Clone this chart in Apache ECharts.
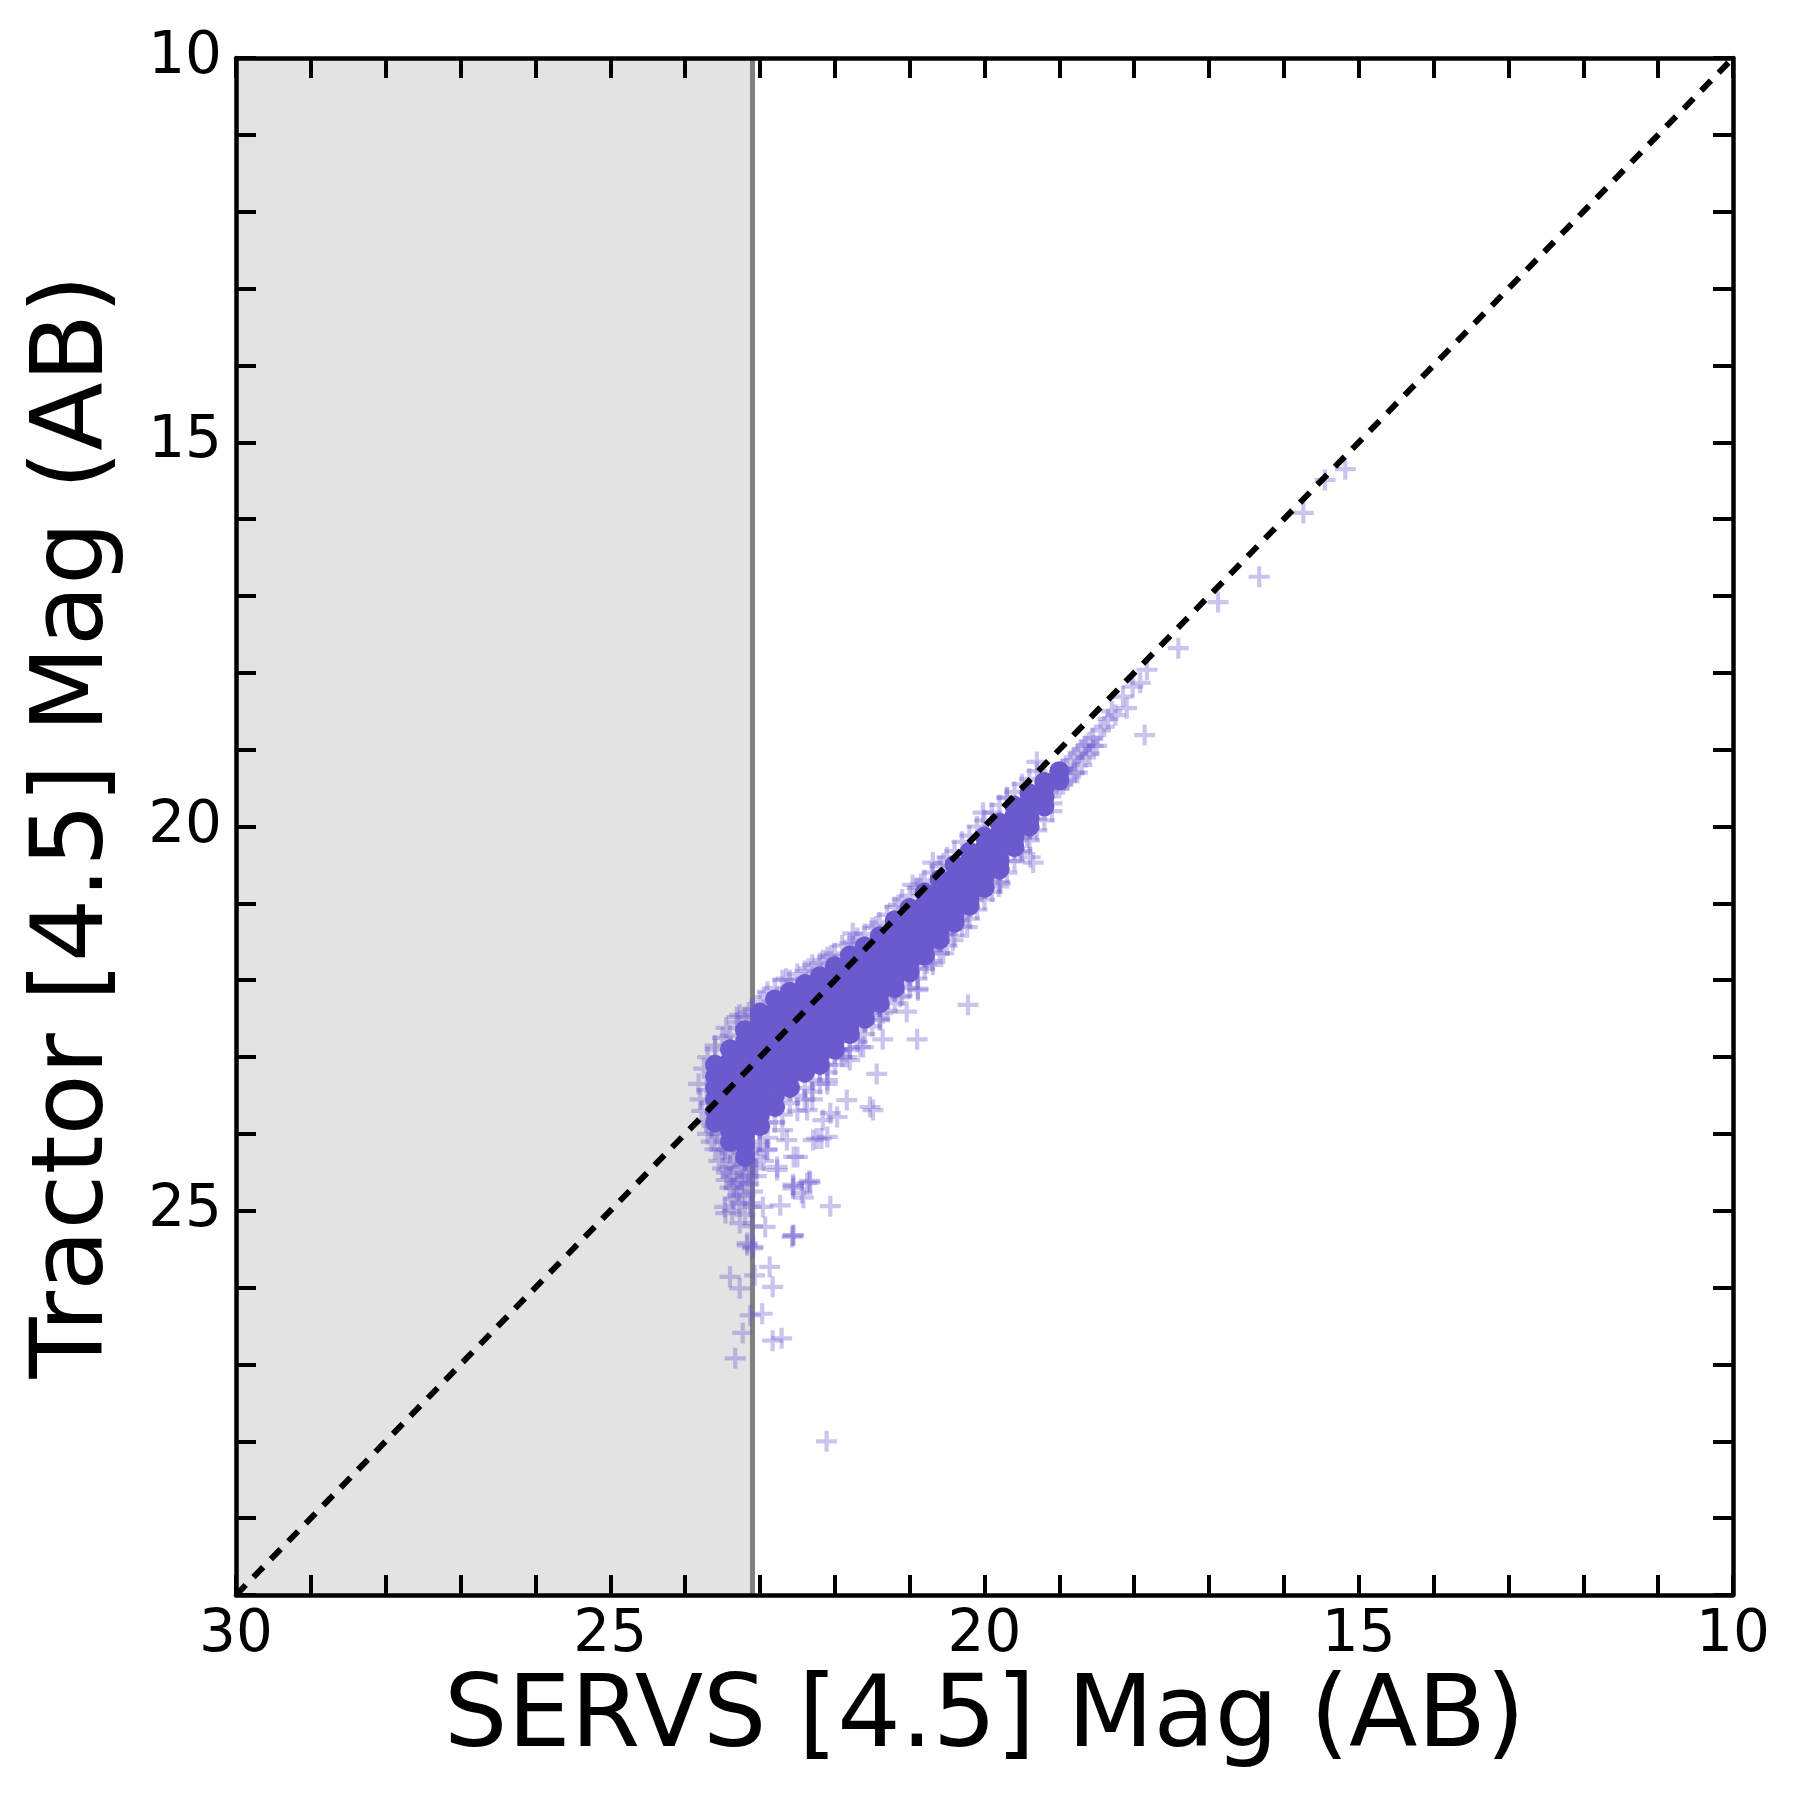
<!DOCTYPE html>
<html><head><meta charset="utf-8">
<script src="https://cdn.jsdelivr.net/npm/echarts@6/dist/echarts.min.js"></script>
<style>html,body{margin:0;padding:0;background:#fff}#c{width:1800px;height:1800px}</style>
</head><body><div id="c"></div>
<script>
// ---- data ----
const cutoff = 23.1;
const diag = [[30, 30], [10, 10]];
const xTitle = 'SERVS [4.5] Mag (AB)';
const yTitle = 'Tractor [4.5] Mag (AB)';

// dense core: x columns and the y values of points in each column
const coreCols = [23.6, 23.4, 23.2, 23.0, 22.8, 22.6, 22.4, 22.2, 22.0, 21.8, 21.6, 21.4, 21.2, 21.0, 20.8, 20.6, 20.4, 20.2, 20.0, 19.8, 19.6, 19.4, 19.2, 19.0];
const coreRows = [
  [23.1, 23.25, 23.4, 23.55, 23.7, 23.85],
  [22.9, 23.05, 23.2, 23.35, 23.5, 23.65, 23.8, 23.95, 24.1],
  [22.65, 22.8, 22.95, 23.1, 23.25, 23.4, 23.55, 23.7, 23.85, 24.0, 24.15, 24.3],
  [22.42, 22.57, 22.72, 22.87, 23.02, 23.17, 23.32, 23.47, 23.62, 23.75, 23.9],
  [22.25, 22.4, 22.55, 22.7, 22.85, 23.0, 23.15, 23.3, 23.5, 23.65],
  [22.15, 22.3, 22.45, 22.6, 22.75, 22.9, 23.05, 23.25, 23.4],
  [22.05, 22.2, 22.35, 22.5, 22.65, 22.8, 22.95, 23.05, 23.2],
  [21.95, 22.1, 22.25, 22.4, 22.55, 22.7, 22.83, 22.98, 23.1],
  [21.82, 21.97, 22.12, 22.27, 22.42, 22.55, 22.63, 22.78, 22.9],
  [21.68, 21.83, 21.98, 22.13, 22.28, 22.43, 22.58, 22.7],
  [21.56, 21.71, 21.86, 22.01, 22.16, 22.24, 22.38, 22.5],
  [21.43, 21.58, 21.73, 21.88, 22.02, 22.17, 22.3],
  [21.22, 21.37, 21.52, 21.67, 21.83, 21.98, 22.1],
  [21.06, 21.21, 21.36, 21.51, 21.64, 21.78, 21.9],
  [20.86, 21.01, 21.16, 21.3, 21.4, 21.55, 21.68],
  [20.69, 20.84, 20.99, 21.12, 21.2, 21.35, 21.47],
  [20.5, 20.65, 20.8, 20.92, 21.0, 21.14, 21.25],
  [20.33, 20.48, 20.63, 20.77, 20.92, 21.03],
  [20.13, 20.28, 20.42, 20.52, 20.66, 20.8],
  [19.95, 20.1, 20.22, 20.3, 20.45, 20.56],
  [19.73, 19.86, 19.99, 20.13, 20.27],
  [19.57, 19.7, 19.76, 19.9, 20.0],
  [19.42, 19.5, 19.62, 19.74],
  [19.28, 19.4]
];

const edgeBelow = [[23.0,23.9],[23.0,24.1],[22.9,23.85],[22.9,24.05],[22.9,24.2],[22.8,23.65],[22.8,23.85],[22.7,23.55],[22.7,23.75],[22.7,23.95],[22.6,23.4],[22.6,23.6],[22.5,23.3],[22.5,23.5],[22.5,23.7],[22.4,23.2],[22.4,23.4],[22.3,23.1],[22.3,23.3],[22.3,23.55],[22.2,22.95],[22.2,23.15],[22.1,22.9],[22.1,23.1],[22.1,23.35],[22.0,22.75],[22.0,22.95],[21.9,22.7],[21.9,22.9],[21.8,22.55],[21.8,22.75],[21.7,22.45],[21.7,22.65],[21.6,22.35],[21.6,22.55],[21.5,22.25],[21.5,22.45],[21.4,22.15],[21.4,22.35],[21.3,22.05],[21.3,22.25],[21.2,21.95],[21.2,22.15],[21.1,21.85],[21.1,22.05],[21.0,21.75],[21.0,21.95],[20.9,21.65],[20.9,21.85],[20.8,21.52],[20.8,21.7],[20.7,21.42],[20.7,21.6],[20.6,21.3],[20.6,21.5],[20.5,21.2],[20.5,21.4],[20.4,21.08],[20.4,21.25],[20.3,20.98],[20.3,21.15],[20.2,20.88],[20.2,21.05],[20.1,20.75],[20.1,20.92],[20.0,20.62],[20.0,20.8],[19.9,20.52],[19.9,20.68],[19.8,20.4],[19.8,20.55],[19.7,20.28],[19.7,20.45],[19.6,20.12],[19.6,20.3],[19.5,20.0],[19.5,20.15],[19.4,19.88],[19.4,20.02],[19.3,19.75],[19.3,19.9]];

const edgeBelowOuter = [[22.4,23.55],[22.3,23.45],[22.2,23.35],[22.1,23.2],[22.0,23.1],[21.9,23.0],[21.8,22.9],[21.7,22.8],[21.6,22.7],[21.5,22.6],[21.4,22.5],[21.3,22.4],[21.2,22.3],[21.1,22.2],[21.0,22.1],[20.9,21.98],[20.8,21.85],[20.7,21.75],[20.6,21.65],[20.5,21.55],[20.4,21.42],[20.3,21.3],[20.2,21.2],[20.1,21.08],[20.0,20.95],[19.9,20.85],[19.8,20.72],[19.7,20.6],[19.6,20.45],[19.5,20.32],[19.4,20.18],[19.3,20.05],[19.2,19.92],[19.1,19.8]];

const edgeAbove = [[23.6,22.9],[23.5,22.75],[23.4,22.72],[23.3,22.55],[23.2,22.48],[23.1,22.38],[23.0,22.28],[22.9,22.15],[22.8,22.1],[22.7,22.0],[22.6,22.0],[22.5,21.92],[22.4,21.88],[22.3,21.8],[22.2,21.78],[22.1,21.7],[22.0,21.65],[21.9,21.55],[21.8,21.52],[21.7,21.45],[21.6,21.4],[21.5,21.32],[21.4,21.25],[21.3,21.15],[21.2,21.05],[21.1,20.95],[21.0,20.9],[20.9,20.8],[20.8,20.7],[20.7,20.6],[20.6,20.52],[20.5,20.4],[20.4,20.32],[20.3,20.2],[20.2,20.12],[20.1,20.0],[20.0,19.92],[19.9,19.82],[19.8,19.72],[19.7,19.63],[19.6,19.55],[19.5,19.45],[19.4,19.38],[19.3,19.28],[23.31,22.48],[21.76,21.39],[22.16,21.74],[22.77,22.22],[20.69,20.47],[20.02,19.82],[20.96,20.76],[19.3,19.16],[19.7,19.62],[23.27,22.45],[23.45,22.62],[23.15,22.42],[22.95,22.22],[22.65,21.98],[22.35,21.85],[22.05,21.68],[21.75,21.5],[21.45,21.3],[21.15,21.02],[20.85,20.75],[20.55,20.48]];

const tailPts = [[23.82,23.35],[23.8,23.55],[23.78,23.7],[23.72,23.85],[23.7,24.0],[23.65,24.1],[23.6,24.2],[23.55,24.35],[23.5,24.45],[23.45,24.6],[23.4,24.7],[23.35,24.85],[23.75,23.15],[23.7,23.0],[23.6,22.85],[23.3,24.1],[23.25,24.2],[23.15,24.25],[23.35,24.3],[23.2,24.35],[23.1,24.4],[23.3,24.45],[23.2,24.5],[23.05,24.55],[23.25,24.6],[23.15,24.65],[23.35,24.7],[23.1,24.75],[23.2,24.8],[23.28,24.9],[23.12,24.95],[23.2,25.05],[23.05,24.3],[23.4,24.25],[23.45,24.5],[23.0,24.15],[22.95,24.35],[23.71,23.43],[23.67,23.6],[23.53,24.04],[23.4,24.43],[23.47,24.21],[23.31,24.64],[23.24,24.64],[23.17,25.42],[23.13,24.9],[23.27,25.16],[23.1,25.2],[23.5,24.2],[23.38,24.55],[23.22,24.4],[23.05,24.45],[23.15,24.55],[23.3,24.8],[23.58,24.0],[23.64,23.9]];

const sparsePts = [[20.22,22.32],[20.9,22.77],[21.44,23.22],[21.53,23.65],[22.06,24.94],[22.55,25.32],[22.34,24.61],[22.44,24.77],[22.55,24.68],[22.1,24.04],[22.24,24.06],[22.55,24.3],[21.97,22.91],[21.8,23.04],[21.36,22.77],[21.04,22.41],[20.89,22.11],[20.69,21.8],[20.55,21.65],[21.62,22.87],[21.36,22.43],[22.16,23.82],[22.37,23.69],[22.06,23.73],[22.64,24.08],[22.77,24.43],[22.91,24.21],[22.96,24.95],[20.69,21.61],[20.55,21.39],[20.77,21.78],[20.89,22.13],[20.23,21.31],[20.15,20.96],[19.81,20.78],[19.39,20.4],[19.43,20.14],[19.35,20.47],[19.79,20.74],[19.53,20.34],[21.4,22.52],[21.13,22.22],[20.42,21.48],[20.33,21.22],[22.1,23.3],[21.84,23.0],[21.66,22.87],[21.84,23.56],[21.97,23.78],[22.29,24.08],[22.5,24.3],[22.37,24.64],[22.56,24.66]];

const faintOutliers = [[22.11,28.0],[23.33,26.92],[22.83,26.69],[22.71,26.66],[23.23,26.59],[23.13,26.36],[22.97,26.34],[23.4,25.86],[23.27,26.01],[23.07,25.84],[22.87,25.73],[22.83,25.99],[23.17,25.45],[23.09,25.47],[23.47,24.95],[23.37,25.0],[22.93,25.21],[22.56,25.32],[22.33,24.63],[22.56,24.71],[22.42,24.83],[22.73,24.93],[22.77,24.47],[23.46,25.03],[23.1,25.49],[22.57,25.34],[22.18,24.06],[21.49,23.69]];

const brightPts = [[19.2,19.6],[19.15,19.45],[19.1,19.7],[19.05,19.35],[19.0,19.5],[18.95,19.25],[18.9,19.4],[18.85,19.15],[18.8,19.3],[18.75,19.05],[18.7,19.2],[18.65,18.95],[18.6,19.05],[18.55,18.85],[18.5,18.95],[18.45,18.75],[18.4,18.7],[18.35,18.6],[18.3,18.5],[18.25,18.55],[18.15,18.31],[18.1,18.46],[18.02,18.18],[17.92,18.13],[17.83,17.96],[17.86,18.81],[17.41,17.68],[16.88,17.08],[16.33,16.75],[15.74,15.92],[15.45,15.49],[15.18,15.35],[19.1,19.4],[19.0,19.3],[18.9,19.25],[18.8,19.1],[19.15,19.55],[19.05,19.5],[18.7,19.0],[18.6,18.9],[18.76,19.3],[19.25,19.55],[19.2,19.45],[18.95,19.45],[18.85,19.35],[18.65,19.1],[18.55,18.95]];

// ---- build ----
const coreData = [];
coreCols.forEach((x, i) => coreRows[i].forEach(y => coreData.push([x, y])));
const haloData = [].concat(edgeBelow, edgeBelowOuter, edgeAbove, tailPts, sparsePts, faintOutliers, brightPts);

const PLUS = 'path://M8,0h4v8h8v4h-8v8h-4v-8h-8v-4h8z';
const FONT = 'DejaVu Sans';
const tickStyle = { color: '#000', width: 4 };
function xAx(pos, labels) {
  return {
    type: 'value', min: 10, max: 30, interval: 5, inverse: true, position: pos, z: 10,
    axisLine: { show: true, onZero: false, lineStyle: { color: '#000', width: 4.5 } },
    axisTick: { show: true, inside: true, length: 20, lineStyle: tickStyle },
    minorTick: { show: true, splitNumber: 5, length: 20, lineStyle: tickStyle },
    splitLine: { show: false }, minorSplitLine: { show: false },
    axisLabel: { show: labels, fontSize: 58, fontFamily: FONT, color: '#000', margin: 12 },
    name: labels ? xTitle : '', nameLocation: 'middle', nameGap: 74,
    nameTextStyle: { fontSize: 100, fontFamily: FONT, color: '#000' }
  };
}
function yAx(pos, labels) {
  return {
    type: 'value', min: 10, max: 30, interval: 5, inverse: true, position: pos, z: 10,
    axisLine: { show: true, onZero: false, lineStyle: { color: '#000', width: 4.5 } },
    axisTick: { show: true, inside: true, length: 20, lineStyle: tickStyle },
    minorTick: { show: true, splitNumber: 5, length: 20, lineStyle: tickStyle },
    splitLine: { show: false }, minorSplitLine: { show: false },
    axisLabel: { show: labels, fontSize: 58, fontFamily: FONT, color: '#000', margin: 14,
      formatter: v => (v === 30 ? '' : String(v)) },
    name: labels ? yTitle : '', nameLocation: 'middle', nameGap: 110,
    nameTextStyle: { fontSize: 100, fontFamily: FONT, color: '#000' }
  };
}

const chart = echarts.init(document.getElementById('c'), null, { renderer: 'canvas' });
chart.setOption({
  animation: false,
  backgroundColor: '#fff',
  grid: { left: 236, right: 67, top: 58, bottom: 205, containLabel: false },
  xAxis: [xAx('bottom', true), xAx('top', false)],
  yAxis: [yAx('left', true), yAx('right', false)],
  series: [
    { type: 'line', data: [[30, 10]], showSymbol: false, symbol: 'none', z: 1, silent: true,
      markArea: { silent: true, itemStyle: { color: '#e3e3e3' }, label: { show: false },
        data: [[{ xAxis: 30 }, { xAxis: cutoff }]] } },
    { type: 'line', data: [[cutoff, 10], [cutoff, 30]], symbol: 'none', z: 2, silent: true,
      lineStyle: { color: '#808080', width: 5 } },
    { type: 'scatter', data: haloData, symbol: PLUS, symbolSize: 21, z: 3, silent: true,
      itemStyle: { color: '#6a5acd', opacity: 0.35 } },
    { type: 'scatter', data: coreData, symbol: 'circle', symbolSize: 20, z: 4, silent: true,
      itemStyle: { color: '#6a5acd', opacity: 1 } },
    { type: 'line', data: diag, symbol: 'none', z: 5, silent: true,
      lineStyle: { color: '#000', width: 6, type: [14, 11] } }
  ]
});
</script></body></html>
